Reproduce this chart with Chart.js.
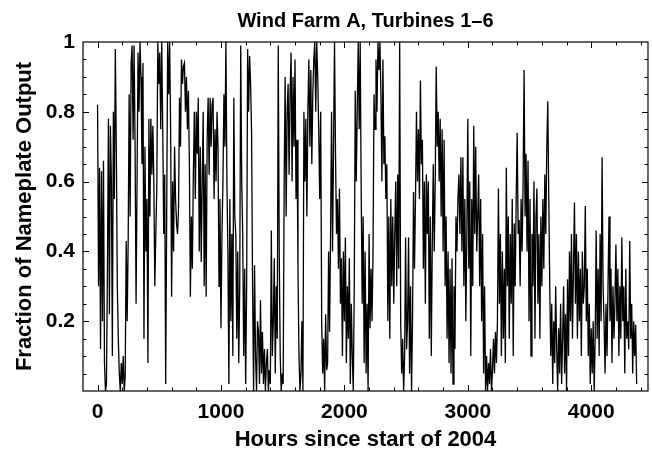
<!DOCTYPE html>
<html lang="en">
  <head>
    <meta charset="UTF-8" />
    <title>Wind Farm A, Turbines 1-6</title>
    <style>
      * {
        margin: 0;
        padding: 0;
      }
      body {
        background: white;
      }
      .chartBox {
        width: 652px;
        height: 449px;
      }
    </style>
  </head>
  <body>
    <div class="chartBox">
      <canvas id="myChart"></canvas>
    </div>

    <script src="https://cdn.jsdelivr.net/npm/chart.js"></script>

    <script>
      // data block: output fraction, one reading every 8 hours from hour 0
      const stepHours = 8;
      const output = [
        0.82, 0.30, 0.64, 0.12, 0.63, 0.20, 0.66, 0.08, 0.00, 0.02,
        0.35, 0.78, 0.22, 0.76, 0.60, 0.10, 0.80, 0.55, 0.98, 0.70,
        0.30, 0.15, 0.05, 0.00, 0.08, 0.02, 0.10, 0.00, 0.04, 0.43,
        0.20, 0.43, 0.85, 0.50, 0.94, 0.99, 0.72, 0.99, 0.70, 0.25,
        0.60, 0.97, 0.80, 1.00, 0.90, 0.65, 0.94, 0.15, 0.70, 0.40,
        0.55, 0.08, 0.78, 0.50, 0.78, 0.62, 0.76, 0.60, 0.30, 0.45,
        0.58, 1.00, 0.88, 0.97, 0.75, 1.00, 0.75, 0.45, 0.62, 0.02,
        0.50, 1.00, 0.85, 1.00, 0.75, 0.27, 0.60, 0.40, 0.70, 0.55, 0.48,
        0.45, 0.52, 0.84, 0.70, 0.95, 0.88, 0.93, 0.94, 0.80, 0.90,
        0.75, 0.86, 0.65, 0.27, 0.50, 0.35, 0.62, 0.80, 0.55, 0.80,
        0.68, 0.84, 0.40, 0.70, 0.37, 0.60, 0.80, 0.30, 0.65, 0.27,
        0.72, 0.84, 0.62, 0.84, 0.70, 0.82, 0.84, 0.55, 0.75, 0.60,
        0.80, 0.70, 0.30, 0.55, 0.18, 0.45, 0.60, 0.85, 0.70, 1.00,
        0.60, 0.40, 0.02, 0.55, 0.20, 0.45, 0.10, 0.84, 0.50, 0.45,
        0.15, 0.40, 0.08, 0.30, 0.99, 0.60, 0.45, 0.10, 0.35, 0.02,
        0.30, 0.98, 0.80, 0.96, 0.88, 0.74, 0.30, 0.00, 0.36, 0.10, 0.00,
        0.20, 0.17, 0.02, 0.26, 0.05, 0.17, 0.02, 0.12, 0.00, 0.08,
        0.12, 0.00, 0.06, 0.02, 0.46, 0.10, 0.20, 0.38, 0.05, 0.30,
        0.15, 0.99, 0.40, 0.10, 0.00, 0.05, 0.02, 0.60, 0.90, 0.50,
        0.80, 0.88, 0.62, 0.85, 0.97, 0.60, 0.90, 0.70, 0.95, 0.55,
        0.72, 0.35, 0.10, 0.00, 0.05, 0.20, 0.00, 0.80, 0.60, 0.78,
        0.50, 0.80, 0.95, 0.70, 0.92, 0.65, 0.85, 0.95, 1.00, 0.80,
        1.00, 0.90, 0.75, 0.55, 0.80, 0.20, 0.05, 0.15, 0.00, 0.22, 0.06,
        0.08, 0.40, 0.17, 0.45, 0.80, 0.40, 0.70, 1.00, 0.68, 0.45,
        0.55, 0.35, 0.58, 0.25, 0.38, 0.10, 0.40, 0.20, 0.44, 0.08,
        0.30, 0.15, 0.38, 0.02, 0.25, 0.10, 0.00, 0.30, 0.86, 0.60,
        0.80, 1.00, 0.75, 1.00, 0.58, 0.25, 0.50, 0.08, 0.40, 0.05,
        0.25, 0.00, 0.45, 0.18, 0.35, 0.20, 0.40, 0.85, 0.75, 0.95,
        0.80, 1.00, 0.92, 1.00, 0.85, 0.60, 0.95, 0.65, 0.73, 0.55,
        0.65, 0.20, 0.50, 0.15, 0.55, 0.30, 0.50, 0.25, 0.45, 0.60,
        0.30, 0.62, 0.35, 1.00, 0.20, 0.05, 0.15, 0.00, 0.10, 0.44, 0.12,
        0.20, 0.44, 0.05, 0.30, 0.00, 0.20, 0.57, 0.35, 0.55, 0.80,
        0.60, 0.75, 0.55, 0.89, 0.65, 0.72, 0.35, 0.60, 0.25, 0.62,
        0.45, 0.60, 0.15, 0.50, 0.10, 0.42, 0.65, 0.40, 0.60, 0.93,
        0.70, 0.80, 0.60, 0.78, 0.50, 0.75, 0.40, 0.72, 0.30, 0.50,
        0.15, 0.40, 0.08, 0.35, 0.05, 0.38, 0.02, 0.30, 0.12, 0.50,
        0.40, 0.55, 0.62, 0.45, 0.67, 0.40, 0.67, 0.30, 0.55, 0.20,
        0.45, 0.78, 0.35, 0.60, 0.10, 0.55, 0.30, 0.76, 0.45, 0.70, 0.40,
        0.50, 0.62, 0.30, 0.55, 0.20, 0.45, 0.05, 0.30, 0.00, 0.10,
        0.00, 0.08, 0.02, 0.12, 0.00, 0.06, 0.15, 0.05, 0.17, 0.08,
        0.20, 0.58, 0.25, 0.45, 0.10, 0.40, 0.15, 0.35, 0.08, 0.64,
        0.30, 0.50, 0.15, 0.45, 0.25, 0.55, 0.10, 0.48, 0.30, 0.55,
        0.74, 0.45, 0.49, 0.30, 0.55, 0.40, 0.60, 0.92, 0.50, 0.68,
        0.40, 0.66, 0.20, 0.55, 0.10, 0.45, 0.30, 0.60, 0.15, 0.50,
        0.58, 0.25, 0.45, 0.15, 0.50, 0.30, 0.55, 0.35, 0.62, 0.45,
        0.70, 0.83, 0.55, 0.30, 0.10, 0.25, 0.02, 0.20, 0.08, 0.30, 0.12,
        0.00, 0.18, 0.05, 0.25, 0.02, 0.15, 0.30, 0.05, 0.22, 0.00,
        0.32, 0.10, 0.40, 0.20, 0.45, 0.15, 0.35, 0.54, 0.25, 0.45,
        0.15, 0.40, 0.20, 0.35, 0.10, 0.40, 0.25, 0.30, 0.53, 0.20,
        0.35, 0.10, 0.25, 0.02, 0.18, 0.05, 0.20, 0.00, 0.15, 0.46,
        0.15, 0.35, 0.10, 0.45, 0.20, 0.67, 0.30, 0.20, 0.05, 0.25,
        0.10, 0.30, 0.50, 0.20, 0.35, 0.08, 0.30, 0.15, 0.25, 0.42,
        0.20, 0.35, 0.10, 0.30, 0.15, 0.44, 0.20, 0.30, 0.05, 0.35, 0.15,
        0.20, 0.12, 0.43, 0.15, 0.25, 0.05, 0.20, 0.10, 0.19, 0.02
      ];
      const hours = output.map((_, i) => i * stepHours);

      const chartTitle = "Wind Farm A, Turbines 1\u20136";
      const xTickValues = [0, 1000, 2000, 3000, 4000];
      const yTickValues = [0.2, 0.4, 0.6, 0.8, 1];

      const data = {
        datasets: [
          {
            label: "Turbines 1-6",
            data: hours.map((h, i) => ({ x: h, y: output[i] })),
            borderColor: "#000",
            borderWidth: 1.3,
            pointRadius: 0,
            tension: 0,
            fill: false
          }
        ]
      };

      const fontFamily = "'Liberation Sans', Arial, Helvetica, sans-serif";
      const boldFont = (size, lineHeight) => ({
        family: fontFamily,
        size,
        weight: "bold",
        lineHeight
      });

      // frame plugin: box round the plot with inward ticks on every side,
      // and the title centred over the plot area
      const frameTicks = {
        id: "frameTicks",
        afterDraw: (chart) => {
          const {
            ctx,
            chartArea: { left, right, top, bottom },
            scales: { x, y }
          } = chart;
          ctx.save();
          ctx.strokeStyle = "#000";
          ctx.lineWidth = 1.2;
          ctx.strokeRect(left, top, right - left, bottom - top);

          ctx.lineWidth = 1;
          ctx.beginPath();
          for (let h = 0; h <= x.max; h += 200) {
            const px = Math.round(x.getPixelForValue(h)) + 0.5;
            const len = h % 1000 === 0 ? 6 : 3.5;
            ctx.moveTo(px, bottom);
            ctx.lineTo(px, bottom - len);
            ctx.moveTo(px, top);
            ctx.lineTo(px, top + len);
          }
          for (let k = 1; k < 20; k++) {
            const py = Math.round(y.getPixelForValue(k * 0.05)) + 0.5;
            const len = k % 4 === 0 ? 6 : 3.5;
            ctx.moveTo(left, py);
            ctx.lineTo(left + len, py);
            ctx.moveTo(right, py);
            ctx.lineTo(right - len, py);
          }
          ctx.stroke();

          ctx.fillStyle = "#000";
          ctx.font = "bold 20px " + fontFamily;
          ctx.textAlign = "center";
          ctx.textBaseline = "alphabetic";
          ctx.fillText(chartTitle, (left + right) / 2, 27);
          ctx.restore();
        }
      };

      // config block
      const config = {
        type: "line",
        data,
        options: {
          responsive: true,
          maintainAspectRatio: false,
          animation: false,
          layout: {
            padding: { left: 0, right: 4, top: 42, bottom: 0 }
          },
          plugins: {
            legend: { display: false },
            tooltip: { enabled: false },
            title: { display: false }
          },
          scales: {
            x: {
              type: "linear",
              min: -118,
              max: 4460,
              grid: { display: false, drawTicks: false },
              border: { display: false },
              afterBuildTicks: (scale) => {
                scale.ticks = xTickValues.map((v) => ({ value: v }));
              },
              afterFit: (scale) => {
                scale.height = 58;
              },
              ticks: {
                color: "#000",
                font: boldFont(21, 1.2),
                padding: 9,
                maxRotation: 0,
                autoSkip: false,
                callback: (v) => String(v)
              },
              title: {
                display: true,
                text: "Hours since start of 2004",
                color: "#000",
                font: boldFont(22, 0.86),
                padding: { top: 0, bottom: 0 }
              }
            },
            y: {
              min: 0,
              max: 1,
              grid: { display: false, drawTicks: false },
              border: { display: false },
              afterBuildTicks: (scale) => {
                scale.ticks = yTickValues.map((v) => ({ value: v }));
              },
              afterFit: (scale) => {
                scale.width = 83;
              },
              ticks: {
                color: "#000",
                font: boldFont(21, 1.2),
                padding: 8,
                callback: (v) => String(v)
              },
              title: {
                display: true,
                text: "Fraction of Nameplate Output",
                color: "#000",
                font: boldFont(22, 1.2),
                padding: { top: 12, bottom: 0 }
              }
            }
          }
        },
        plugins: [frameTicks]
      };

      // init render block
      const myChart = new Chart(document.getElementById("myChart"), config);
    </script>
  </body>
</html>
